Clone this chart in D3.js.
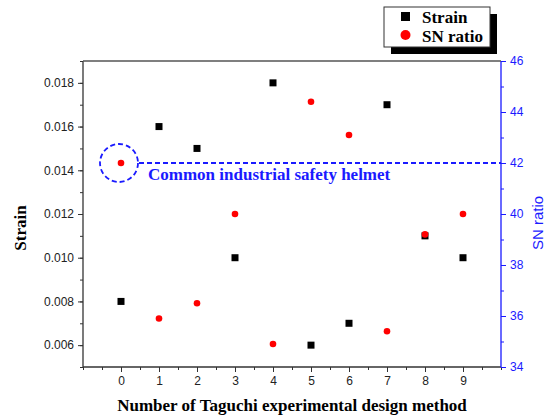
<!DOCTYPE html>
<html>
<head>
<meta charset="utf-8">
<script src="https://cdn.jsdelivr.net/npm/d3@7"></script>
<style>
  body { margin: 0; background: #fff; }
  .serif { font-family: "Liberation Serif", "Times New Roman", Times, serif; font-weight: bold; }
  .sans { font-family: "Liberation Sans", Arial, Helvetica, sans-serif; }
</style>
</head>
<body>
<div id="chart"></div>
<script>
// data
const runs = [0, 1, 2, 3, 4, 5, 6, 7, 8, 9];
const strain = [0.008, 0.016, 0.015, 0.010, 0.018, 0.006, 0.007, 0.017, 0.011, 0.010];
const snRatio = [42.0, 35.9, 36.5, 40.0, 34.9, 44.4, 43.1, 35.4, 39.2, 40.0];
const xTicks = [0, 1, 2, 3, 4, 5, 6, 7, 8, 9];
const strainTicks = [0.006, 0.008, 0.010, 0.012, 0.014, 0.016, 0.018];
const snTicks = [34, 36, 38, 40, 42, 44, 46];
const helmetSN = 42;
const helmetLabel = "Common industrial safety helmet";

const W = 555, H = 420;
const margin = {left: 83, top: 61, right: 54, bottom: 53};
const width = W - margin.left - margin.right;
const height = H - margin.top - margin.bottom;
const blue = "#1a1aff";

const svg = d3.select("#chart").append("svg")
    .attr("width", W)
    .attr("height", H);

const plot = svg.append("g")
    .attr("transform", "translate(" + margin.left + "," + margin.top + ")");

let x = d3.scaleLinear().domain([-1, 10]).range([0, width]);
let yL = d3.scaleLinear().domain([0.005, 0.019]).range([height, 0]);
let yR = d3.scaleLinear().domain([34, 46]).range([height, 0]);

// minor ticks first, then major with labels
function minorAxis(axis, vals) {
    return axis.tickValues(vals).tickSize(3).tickFormat("");
}

let xMinor = d3.range(-1, 10.01, 0.5);
let lMinor = d3.range(0.005, 0.0191, 0.001);
let rMinor = d3.range(34, 46.1, 1);

let gx = plot.append("g").attr("transform", "translate(0," + height + ")");
gx.call(minorAxis(d3.axisBottom(x), xMinor));
let gx2 = plot.append("g").attr("transform", "translate(0," + height + ")")
    .call(d3.axisBottom(x).tickValues(xTicks).tickSize(5).tickPadding(4).tickFormat(d3.format("d")));

let gl = plot.append("g").call(minorAxis(d3.axisLeft(yL), lMinor));
let gl2 = plot.append("g")
    .call(d3.axisLeft(yL).tickValues(strainTicks).tickSize(5).tickPadding(4).tickFormat(d3.format(".3f")));

let gr = plot.append("g").attr("transform", "translate(" + width + ",0)")
    .call(minorAxis(d3.axisRight(yR), rMinor));
let gr2 = plot.append("g").attr("transform", "translate(" + width + ",0)")
    .call(d3.axisRight(yR).tickValues(snTicks).tickSize(5).tickPadding(4).tickFormat(d3.format("d")));

[gx, gx2, gl, gl2].forEach(function(g) {
    g.selectAll("path").attr("stroke", "#333").attr("stroke-width", 1.3);
    g.selectAll("line").attr("stroke", "#333");
    g.selectAll("text").attr("class", "sans")
        .attr("font-size", 12).attr("fill", "#222");
});
[gr, gr2].forEach(function(g) {
    g.selectAll("path").attr("stroke", blue).attr("stroke-width", 1.3);
    g.selectAll("line").attr("stroke", blue);
    g.selectAll("text").attr("class", "sans")
        .attr("font-size", 12).attr("fill", blue);
});
[gx, gx2, gl, gl2, gr, gr2].forEach(function(g) { g.attr("font-family", null).attr("font-size", null); });
// domain paths: hide the outer tick caps of the minor axes
[gx, gl, gr].forEach(function(g) { g.select("path").remove(); });
gx2.select("path").attr("d", "M0,0H" + width);
gl2.select("path").attr("d", "M0," + height + "V0");
gr2.select("path").attr("d", "M0," + height + "V0");

// top frame line
plot.append("line")
    .attr("x1", 0).attr("x2", width)
    .attr("y1", 0).attr("y2", 0)
    .attr("stroke", "#555").attr("stroke-width", 1.3);

// helmet reference: dashed line and dashed circle
plot.append("line")
    .attr("x1", x(0) + 18).attr("x2", width)
    .attr("y1", yR(helmetSN)).attr("y2", yR(helmetSN))
    .attr("stroke", blue).attr("stroke-width", 2)
    .attr("stroke-dasharray", "5,3");

plot.append("circle")
    .attr("cx", x(0) - 2).attr("cy", yR(helmetSN))
    .attr("r", 19)
    .attr("fill", "none")
    .attr("stroke", blue).attr("stroke-width", 1.8)
    .attr("stroke-dasharray", "5,3");

plot.append("text")
    .attr("class", "serif")
    .attr("x", x(0) + 27)
    .attr("y", yR(helmetSN) + 17)
    .attr("font-size", 17)
    .attr("fill", blue)
    .text(helmetLabel);

// strain squares
let sq = 7;
plot.selectAll("rect.strain")
    .data(runs)
    .enter()
        .append("rect")
        .attr("class", "strain")
        .attr("x", function(d) { return x(d) - sq / 2; })
        .attr("y", function(d, i) { return yL(strain[i]) - sq / 2; })
        .attr("width", sq)
        .attr("height", sq)
        .attr("fill", "#000");

// SN ratio circles
plot.selectAll("circle.sn")
    .data(runs)
    .enter()
        .append("circle")
        .attr("class", "sn")
        .attr("cx", function(d) { return x(d); })
        .attr("cy", function(d, i) { return yR(snRatio[i]); })
        .attr("r", 3.3)
        .attr("fill", "#f00");

// axis titles
svg.append("text")
    .attr("class", "serif")
    .attr("transform", "translate(26,228) rotate(-90)")
    .attr("text-anchor", "middle")
    .attr("font-size", 17)
    .text("Strain");

svg.append("text")
    .attr("class", "sans")
    .attr("transform", "translate(543,223) rotate(-90)")
    .attr("text-anchor", "middle")
    .attr("font-size", 15)
    .attr("fill", blue)
    .text("SN ratio");

svg.append("text")
    .attr("class", "serif")
    .attr("x", margin.left + width / 2)
    .attr("y", 411)
    .attr("text-anchor", "middle")
    .attr("font-size", 17)
    .text("Number of Taguchi experimental design method");

// legend with drop shadow
let lg = svg.append("g").attr("transform", "translate(384,7)");
lg.append("rect").attr("x", 7).attr("y", 7).attr("width", 106).attr("height", 40).attr("fill", "#000");
lg.append("rect").attr("x", 0).attr("y", 0).attr("width", 106).attr("height", 40)
    .attr("fill", "#fff").attr("stroke", "#333").attr("stroke-width", 1);
let legendItems = ["Strain", "SN ratio"];
lg.selectAll("text")
    .data(legendItems)
    .enter()
        .append("text")
        .attr("class", "serif")
        .attr("x", 38)
        .attr("y", function(d, i) { return 16 + i * 19; })
        .attr("font-size", 17)
        .text(function(d) { return d; });
lg.append("rect").attr("x", 17).attr("y", 5).attr("width", 9).attr("height", 9).attr("fill", "#000");
lg.append("circle").attr("cx", 21.5).attr("cy", 28).attr("r", 5).attr("fill", "#f00");
</script>
</body>
</html>
